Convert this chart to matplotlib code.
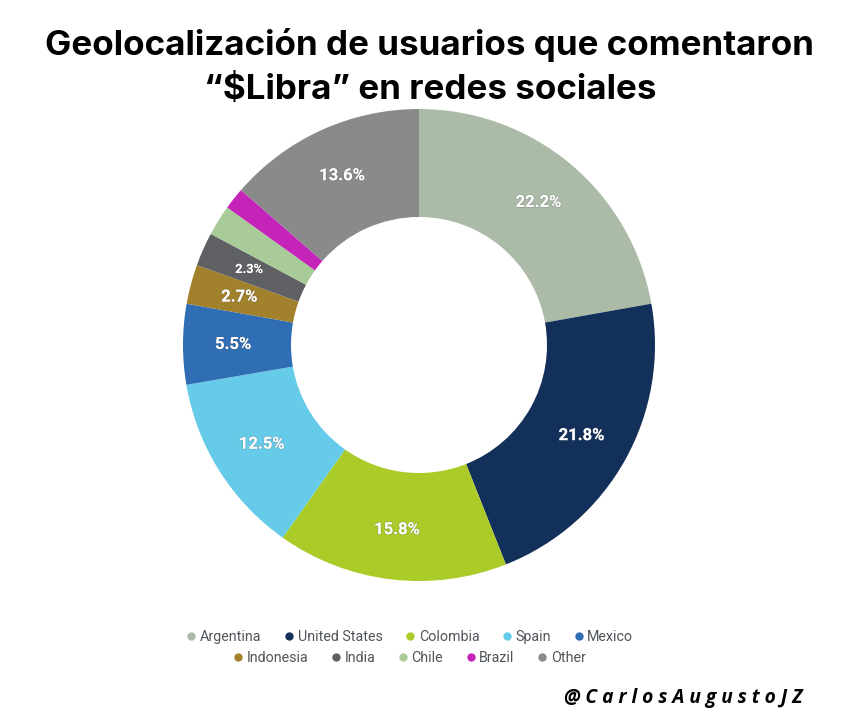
import matplotlib as mpl
mpl.use('Agg')

import matplotlib.pyplot as plt
import matplotlib.patheffects as pe
from matplotlib.lines import Line2D
import numpy as np

# --- DATA ---
paises = ['Argentina', 'United States', 'Colombia', 'Spain', 'Mexico',
          'Indonesia', 'India', 'Chile', 'Brazil', 'Other']
valores = [22.2, 21.8, 15.8, 12.5, 5.5, 2.7, 2.3, 2.1, 1.5, 13.6]
rotulos = ['22.2%', '21.8%', '15.8%', '12.5%', '5.5%', '2.7%', '2.3%', '', '', '13.6%']
cores = ['#abbba8', '#12305a', '#abcb28', '#66cbe8', '#2f6db5',
         '#a1812c', '#5f6064', '#a9cb98', '#c424b8', '#8a8a8a']

fig = plt.figure(figsize=(8.51, 7.2), dpi=100)
ax = fig.add_axes([0, 0, 1, 1])

# eixo em pixels da imagem
wedges, _ = ax.pie(valores, colors=cores, startangle=90, counterclock=False,
                   radius=236, center=(419, 375), frame=True,
                   wedgeprops=dict(width=108, linewidth=0))
ax.set_xlim(0, 851)
ax.set_ylim(0, 720)
ax.axis('off')

# rotulos das fatias
for w, rot in zip(wedges, rotulos):
    if not rot:
        continue
    ang = np.deg2rad((w.theta1 + w.theta2) / 2)
    tam = 9.2 if rot == '2.3%' else 12
    ax.text(419 + 186 * np.cos(ang), 375 + 186 * np.sin(ang), rot, color='white',
            fontsize=tam, fontweight='bold', family='Roboto', ha='center', va='center',
            path_effects=[pe.withStroke(linewidth=1.0, foreground='#55555544')])

# titulo em duas linhas
fig.text(430 / 851, 1 - 45 / 720, 'Geolocalización de usuarios que comentaron', ha='center', va='center',
         fontsize=25.2, fontweight='bold', family='Inter', color='black')
fig.text(430 / 851, 1 - 90 / 720, '“$Libra” en redes sociales', ha='center', va='center',
         fontsize=25.2, fontweight='bold', family='Inter', color='black')

# legenda em duas linhas centradas
def legenda(inicio, fim, x, y):
    handles = [Line2D([], [], marker='o', linestyle='none', markersize=6,
                      markerfacecolor=c, markeredgewidth=0)
               for c in cores[inicio:fim]]
    return fig.legend(handles, paises[inicio:fim], loc='center', bbox_to_anchor=(x / 851, 1 - y / 720),
                      ncol=fim - inicio, frameon=False, handletextpad=0.0, columnspacing=1.33,
                      prop=dict(family='Roboto', size=10.3), labelcolor='#50555a',
                      borderpad=0, handlelength=1.2)

legenda(0, 5, 408, 637)
legenda(5, 10, 407.5, 658)

# assinatura
fig.text(564 / 851, 1 - 698 / 720, ' '.join('@CarlosAugustoJZ'), ha='left', va='center',
         fontsize=13.8, fontweight='bold', fontstyle='italic', family='Open Sans', color='black')

plt.savefig('out.png', dpi=100)
plt.close(fig)
